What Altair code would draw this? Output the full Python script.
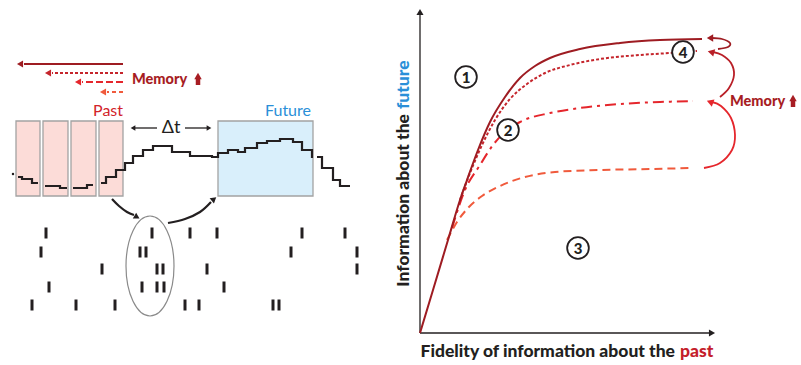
import altair as alt
import pandas as pd

W, H = 801, 365
FONT = "Lato"
INK = "#231f20"
DARK = "#9e1c22"
DOTC = "#c5252c"
DDC = "#e5262c"
DASHC = "#f05a3c"
MEMC = "#a71d23"
HEAVY = 900

# ---------------- right panel: curves (drawing coordinates) ----------------
solid_x = [420, 433, 448, 460, 467, 478, 490, 505, 520, 535, 550, 580, 620, 660, 702]
solid_y = [333, 290, 240, 200, 180, 150, 122, 97, 78, 66, 58, 49, 43, 40, 39]
dotted_x = [460, 470, 482, 495, 510, 527, 545, 570, 600, 640, 670, 697]
dotted_y = [200, 173, 145, 120, 99, 84, 73, 65, 59, 55, 53, 51]
dashdot_x = [452, 465, 480, 493, 505, 520, 550, 580, 620, 660, 693]
dashdot_y = [228, 190, 165, 145, 132, 122, 113, 108, 104, 102, 101]
dashed_x = [447, 457, 468, 482, 500, 525, 555, 600, 650, 692]
dashed_y = [240, 222, 208, 196, 186, 177, 172, 170, 169, 168]

# memory arcs on the right
arc1_x = [704, 720, 732, 735, 731, 721, 712]
arc1_y = [168, 163, 150, 135, 118, 106, 102]
arc2_x = [720, 729, 734, 731, 722, 713]
arc2_y = [97, 88, 75, 63, 55, 52]
arc3_x = [718, 728, 730, 722, 712]
arc3_y = [49, 47, 43, 39, 38]

# circled region numbers
num_x = [466, 508, 578, 683]
num_y = [77, 130, 248, 52]
num_t = ["1", "2", "3", "4"]

# ---------------- left panel ----------------
# memory arrows (y, start x, end x)
mem_y = [64, 73, 82, 92]
mem_x0 = [123, 123, 123, 123]
mem_x1 = [20, 48, 78, 103]

past_x0 = [16, 43, 71, 99]
past_x1 = [40, 68, 96, 123]
box_y0, box_y1 = 121, 196
fut_x0, fut_x1 = 218, 313

# stepped signal: segment id, x, y (step-after)
sig_seg = [0, 0, 0, 0,
           1, 1, 1,
           2, 2, 2,
           3, 3, 3, 3, 3, 3, 3, 3, 3, 3, 3, 3,
           3, 3, 3, 3, 3, 3, 3, 3, 3, 3, 3,
           4, 4, 4, 4, 4]
sig_x = [18, 22, 32, 38,
         45, 60, 67,
         73, 87, 93,
         101, 106, 116, 122, 125, 133, 143, 153, 172, 190, 212, 218,
         228, 238, 245, 257, 267, 280, 293, 302, 312, 312, 312,
         317, 322, 333, 340, 350]
sig_y = [177, 179, 183, 183,
         186, 188, 188,
         188, 185, 185,
         183, 177, 170, 170, 163, 156, 150, 146, 152, 156, 157, 153,
         150, 152, 148, 143, 141, 139, 142, 150, 150, 158, 158,
         157, 168, 180, 186, 186]

# spike raster: row centre y and spike x positions
spike_rows = [233, 252, 269, 287, 305]
spike_xs = [
    [46, 152, 190, 217, 302, 345],
    [41, 140, 146, 291, 357],
    [102, 157, 163, 207, 357],
    [49, 142, 157, 164, 224],
    [32, 76, 115, 185, 199, 273, 279],
]

# curved arrows linking past -> spikes -> future
carr1_x = [112, 119, 127, 134]
carr1_y = [199, 206, 212, 215]
carr2_x = [168, 185, 200, 211]
carr2_y = [223, 219, 212, 202]

# ---------------- helpers ----------------
XS = alt.Scale(domain=[0, W], nice=False, zero=False)
YS = alt.Scale(domain=[0, H], nice=False, zero=False, reverse=True)


def X(f="x"):
    return alt.X(f"{f}:Q", scale=XS, axis=None)


def Y(f="y"):
    return alt.Y(f"{f}:Q", scale=YS, axis=None)


def pts(xs, ys, **extra):
    d = {"x": xs, "y": ys, "i": list(range(len(xs)))}
    d.update(extra)
    return pd.DataFrame(d)


def line(xs, ys, color, width=2.0, dash=None, interp="monotone"):
    kw = dict(color=color, strokeWidth=width, interpolate=interp, strokeCap="butt")
    if dash:
        kw["strokeDash"] = dash
    return alt.Chart(pts(xs, ys)).mark_line(**kw).encode(
        x=X(), y=Y(), order=alt.Order("i:Q"))


def head(x, y, color, shape, size=55, angle=0):
    return alt.Chart(pts([x], [y])).mark_point(
        shape=shape, filled=True, color=color, size=size, angle=angle, opacity=1
    ).encode(x=X(), y=Y())


def text(x, y, t, size=14, color=INK, weight="normal", align="center", angle=0):
    return alt.Chart(pts([x], [y], t=[t])).mark_text(
        font=FONT, fontSize=size, color=color, fontWeight=weight,
        align=align, baseline="middle", angle=angle
    ).encode(x=X(), y=Y(), text="t:N")


def hrule(x0, x1, y, color, width=1.3, dash=None):
    kw = dict(color=color, strokeWidth=width)
    if dash:
        kw["strokeDash"] = dash
    return alt.Chart(pd.DataFrame({"x": [x0], "x2": [x1], "y": [y]})).mark_rule(**kw).encode(
        x=X(), x2=alt.X2("x2:Q"), y=Y())


def vrule(x, y0, y1, color, width=1.3):
    return alt.Chart(pd.DataFrame({"x": [x], "y": [y0], "y2": [y1]})).mark_rule(
        color=color, strokeWidth=width).encode(x=X(), y=Y(), y2=alt.Y2("y2:Q"))


layers = []

# ---- right panel axes ----
layers.append(vrule(420, 333, 14, INK, 1.3))
layers.append(hrule(420, 710, 333, INK, 1.3))
layers.append(head(420, 12, INK, "triangle-up", 50))
layers.append(head(712, 333, INK, "triangle-right", 50))

# axis titles (two-coloured)
layers.append(text(675, 352, "Fidelity of information about the", 17.5, INK, HEAVY, "right"))
layers.append(text(680, 352, "past", 17.5, "#c41e2b", HEAVY, "left"))
layers.append(text(404, 114, "Information about the", 17.5, INK, HEAVY, "right", 270))
layers.append(text(404, 109, "future", 17.5, "#2a8fd8", HEAVY, "left", 270))

# curves
layers.append(line(dashed_x, dashed_y, DASHC, 2.0, [8, 5]))
layers.append(line(dashdot_x, dashdot_y, DDC, 2.0, [11, 5, 3, 5]))
layers.append(line(dotted_x, dotted_y, DOTC, 2.0, [3, 2]))
layers.append(line(solid_x, solid_y, DARK, 2.0))

# memory arcs
layers.append(line(arc1_x, arc1_y, DDC, 1.8, interp="cardinal"))
layers.append(line(arc2_x, arc2_y, "#b91f27", 1.8, interp="cardinal"))
layers.append(line(arc3_x, arc3_y, DARK, 1.8, interp="cardinal"))
layers.append(head(710, 102, DDC, "triangle-left", 60, 20))
layers.append(head(711, 52, "#b91f27", "triangle-left", 60, 15))
layers.append(head(710, 38, DARK, "triangle-left", 55, 0))
layers.append(text(730, 102, "Memory", 14.5, MEMC, HEAVY, "left"))
layers.append(head(793, 98, MEMC, "triangle-up", 55))
layers.append(vrule(793, 100, 107, MEMC, 4.5))

# circled numbers
nums = pd.DataFrame({"x": num_x, "y": num_y, "t": num_t})
layers.append(alt.Chart(nums).mark_point(
    shape="circle", size=470, filled=True, fill="white", stroke=INK,
    strokeWidth=1.8, opacity=1).encode(x=X(), y=Y()))
layers.append(alt.Chart(nums).mark_text(
    font=FONT, fontSize=15, fontWeight=HEAVY, color=INK, baseline="middle", dy=0.5
).encode(x=X(), y=Y(), text="t:N"))

# ---- left panel ----
mem_colors = [DARK, DOTC, DDC, DASHC]
mem_dash = [None, [3, 2], [7, 3], [4, 3]]
for yy, a, b, c, d in zip(mem_y, mem_x0, mem_x1, mem_colors, mem_dash):
    layers.append(hrule(a, b + 4, yy, c, 2.0, d))
    layers.append(head(b, yy, c, "triangle-left", 50))
layers.append(text(132, 80, "Memory", 14.5, MEMC, HEAVY, "left"))
layers.append(head(198, 76, MEMC, "triangle-up", 55))
layers.append(vrule(198, 78, 85, MEMC, 4.5))

boxes = pd.DataFrame({"x": past_x0, "x2": past_x1, "y": [box_y0] * 4, "y2": [box_y1] * 4})
fbox = pd.DataFrame({"x": [fut_x0], "x2": [fut_x1], "y": [box_y0], "y2": [box_y1]})
layers.append(alt.Chart(boxes).mark_rect(fill="#fcdcd8", stroke="#a3a3a3", strokeWidth=1.3).encode(
    x=X(), x2=alt.X2("x2:Q"), y=Y(), y2=alt.Y2("y2:Q")))
layers.append(alt.Chart(fbox).mark_rect(fill="#d9effb", stroke="#a3a3a3", strokeWidth=1.3).encode(
    x=X(), x2=alt.X2("x2:Q"), y=Y(), y2=alt.Y2("y2:Q")))

sig = pd.DataFrame({"x": sig_x, "y": sig_y, "seg": sig_seg, "i": list(range(len(sig_x)))})
layers.append(alt.Chart(sig).mark_line(color=INK, strokeWidth=2.2, interpolate="step-after").encode(
    x=X(), y=Y(), detail="seg:N", order=alt.Order("i:Q")))
layers.append(alt.Chart(pts([13], [174])).mark_point(shape="circle", size=6, filled=True, color=INK, opacity=1).encode(x=X(), y=Y()))

layers.append(text(123, 111, "Past", 16, "#d2232a", "normal", "right"))
layers.append(text(288, 111, "Future", 16, "#2a8fd8", "normal", "center"))

# delta t
layers.append(text(171, 128, "\u0394t", 18, INK, "normal", "center"))
layers.append(hrule(134, 157, 128, INK, 1.3))
layers.append(head(133, 128, INK, "triangle-left", 30))
layers.append(hrule(185, 208, 128, INK, 1.3))
layers.append(head(209, 128, INK, "triangle-right", 30))

# spikes
rows = []
for ry, xs in zip(spike_rows, spike_xs):
    for sx in xs:
        rows.append({"x": sx, "y": ry - 5.5, "y2": ry + 5.5})
layers.append(alt.Chart(pd.DataFrame(rows)).mark_rule(color=INK, strokeWidth=3).encode(
    x=X(), y=Y(), y2=alt.Y2("y2:Q")))

# ellipse around the population
ELLIPSE = ("M0,-1C0.265,-1,0.48,-0.552,0.48,0C0.48,0.552,0.265,1,0,1"
           "C-0.265,1,-0.48,0.552,-0.48,0C-0.48,-0.552,-0.265,-1,0,-1Z")
layers.append(alt.Chart(pts([150], [266])).mark_point(
    shape=ELLIPSE, size=10000, filled=False, stroke="#8a8a8a", strokeWidth=1.2, opacity=1
).encode(x=X(), y=Y()))

# curved arrows
layers.append(line(carr1_x, carr1_y, INK, 2.2, interp="cardinal"))
layers.append(head(137, 217, INK, "triangle-right", 45, 30))
layers.append(line(carr2_x, carr2_y, INK, 2.2, interp="cardinal"))
layers.append(head(214, 199, INK, "triangle-right", 45, 320))

chart = alt.layer(*layers).properties(
    width=W, height=H, padding=0, autosize="none", background="white"
).configure_view(stroke=None)

chart.save("out.html", embed_options={"renderer": "svg", "actions": False})
